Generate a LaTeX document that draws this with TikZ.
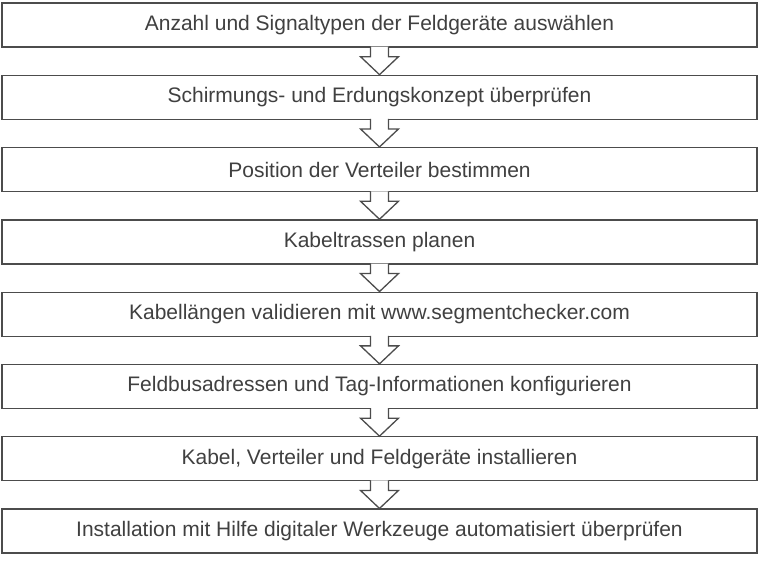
\documentclass[tikz,border=0pt]{standalone}
\usepackage{fontspec}
\setmainfont{Liberation Sans}
\begin{document}
\begin{tikzpicture}[x=1pt,y=-1pt,
  stepbox/.style={draw=black!70,line width=1.3pt,fill=white,minimum width=755pt,minimum height=44pt,inner sep=0pt,text=black!75,font=\fontsize{21}{24}\selectfont},
  arr/.style={draw=black!70,line width=1.3pt,fill=white,line join=miter}]
\useasboundingbox (0,0) rectangle (760,560);
\foreach \i/\t in {1/Anzahl und Signaltypen der Feldgeräte auswählen,
 2/Schirmungs- und Erdungskonzept überprüfen,
 3/Position der Verteiler bestimmen,
 4/Kabeltrassen planen,
 5/Kabellängen validieren mit www.segmentchecker.com,
 6/Feldbusadressen und Tag-Informationen konfigurieren,
 7/{Kabel, Verteiler und Feldgeräte installieren},
 8/Installation mit Hilfe digitaler Werkzeuge automatisiert überprüfen}
  \node[stepbox] (b\i) at (379.5,{25+72.3*(\i-1)}) {\t};
\foreach \i [evaluate=\i as \j using int(\i+1)] in {1,...,7}{
  \coordinate (s\i) at (b\i.south);
  \coordinate (n\i) at (b\j.north);
  \draw[arr] ([xshift=-9pt,yshift=1pt]s\i) -- ([xshift=-9pt,yshift=-9pt]s\i) -- ([xshift=-19pt,yshift=-9pt]s\i) -- (n\i) -- ([xshift=19pt,yshift=-9pt]s\i) -- ([xshift=9pt,yshift=-9pt]s\i) -- ([xshift=9pt,yshift=1pt]s\i);
}
\end{tikzpicture}
\end{document}
